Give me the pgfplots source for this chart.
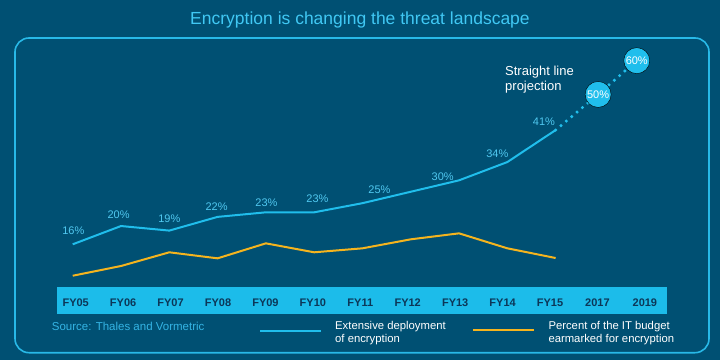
\documentclass[border=0pt]{standalone}
\usepackage{pgfplots}
\pgfplotsset{compat=1.18}
\usepackage{fontspec}
\setmainfont{Liberation Sans}
\definecolor{bg}{RGB}{0,80,115}
\definecolor{cyanline}{RGB}{32,190,236}
\definecolor{barfill}{RGB}{28,188,234}
\definecolor{titlec}{RGB}{64,200,244}
\definecolor{labelc}{RGB}{80,200,240}
\definecolor{sourcec}{RGB}{52,180,228}
\definecolor{yel}{RGB}{245,180,30}
\definecolor{tickc}{RGB}{12,55,88}
\definecolor{framec}{RGB}{40,185,232}

\pgfplotstableread{
x y lab dx dy
0 16 16\% 0.6 13.6
1 20 20\% -2.4 11.4
2 19 19\% 0 12
3 22 22\% -1 10.3
4 23 23\% 0.6 9.7
5 23 23\% 3.3 13.4
6 25 25\% 17 13.5
8 30 30\% -16.3 3.5
9 34 34\% -10 8.4
10 41 41\% -11.7 8
}\bluelabels

\begin{document}
\begin{tikzpicture}
\fill[bg] (0pt,0pt) rectangle (720pt,360pt);
\node[text=titlec, font=\fontsize{17.5}{20}\selectfont] at (360pt,340pt) {Encryption is changing the threat landscape};
\draw[framec, line width=1.6pt, rounded corners=14pt] (15pt,7.3pt) rectangle (709pt,322pt);
\fill[barfill] (57.3pt,45.7pt) rectangle (666.7pt,72.7pt);
\begin{axis}[
  at={(57.3pt,45.7pt)}, anchor=south west,
  scale only axis, width=609.4pt, height=284.3pt,
  xmin=-0.319, xmax=12.30, ymin=0.68, ymax=62.9,
  clip=false,
  axis line style={draw=none},
  major tick length=0pt,
  ytick=\empty,
  xtick={0.062,1.044,2.026,3.009,3.991,4.973,5.955,6.937,7.920,8.902,9.884,10.866,11.848},
  xticklabels={FY05,FY06,FY07,FY08,FY09,FY10,FY11,FY12,FY13,FY14,FY15,2017,2019},
  xticklabel style={anchor=center, yshift=12pt, text=tickc, font=\bfseries\fontsize{11}{13}\selectfont},
]
\addplot[yel, line width=2pt, line join=round] coordinates {
(0,9.12) (1,11.25) (2,14.25) (3,12.93) (4,16.21) (5,14.25) (6,15.12) (7,17.09) (8,18.40) (9,15.12) (10,13.0)
};

\addplot[cyanline, line width=3.4pt, line cap=round, dash pattern=on 0pt off 7pt] coordinates {
(10,41) (10.88,48.8) (11.68,56.2)
};

\addplot[cyanline, line width=2pt, line join=round] coordinates {
(0,16) (1,20) (2,19) (3,22) (4,23) (5,23) (6,25) (7,27.5) (8,30) (9,34) (10,41)
};

\addplot[draw=none, mark=none, nodes near coords, point meta=explicit symbolic,
  visualization depends on={\thisrow{dx}\as\dx},
  visualization depends on={\thisrow{dy}\as\dy},
  nodes near coords style={anchor=center, xshift=\dx pt, yshift=\dy pt, text=labelc, font=\fontsize{11}{13}\selectfont}]
  table[x=x, y=y, meta=lab] {\bluelabels};

\addplot[only marks, mark=*, mark size=13pt, mark options={fill=cyanline, draw=none},
  nodes near coords, point meta=explicit symbolic,
  nodes near coords style={anchor=center, text=white, font=\fontsize{11}{13}\selectfont}]
  coordinates {(10.88,48.8) [50\%] (11.68,56.2) [60\%]};
\end{axis}

\node[anchor=west, inner sep=0pt, align=left, text=white, font=\fontsize{13}{14.4}\selectfont] at (505pt,280.5pt) {Straight line\\projection};

\node[anchor=west, inner sep=0pt, text=sourcec, font=\fontsize{11.5}{13}\selectfont] at (51.7pt,33.3pt) {Source: Thales and Vormetric};
\draw[cyanline, line width=2pt] (260pt,29.3pt) -- (320.7pt,29.3pt);
\node[anchor=west, inner sep=0pt, align=left, text=white, font=\fontsize{11.3}{13.3}\selectfont] at (335pt,26.6pt) {Extensive deployment\\of encryption};
\draw[yel, line width=2pt] (473.3pt,29.8pt) -- (534pt,29.8pt);
\node[anchor=west, inner sep=0pt, align=left, text=white, font=\fontsize{11.3}{13.3}\selectfont] at (548.3pt,26.6pt) {Percent of the IT budget\\earmarked for encryption};
\end{tikzpicture}
\end{document}
